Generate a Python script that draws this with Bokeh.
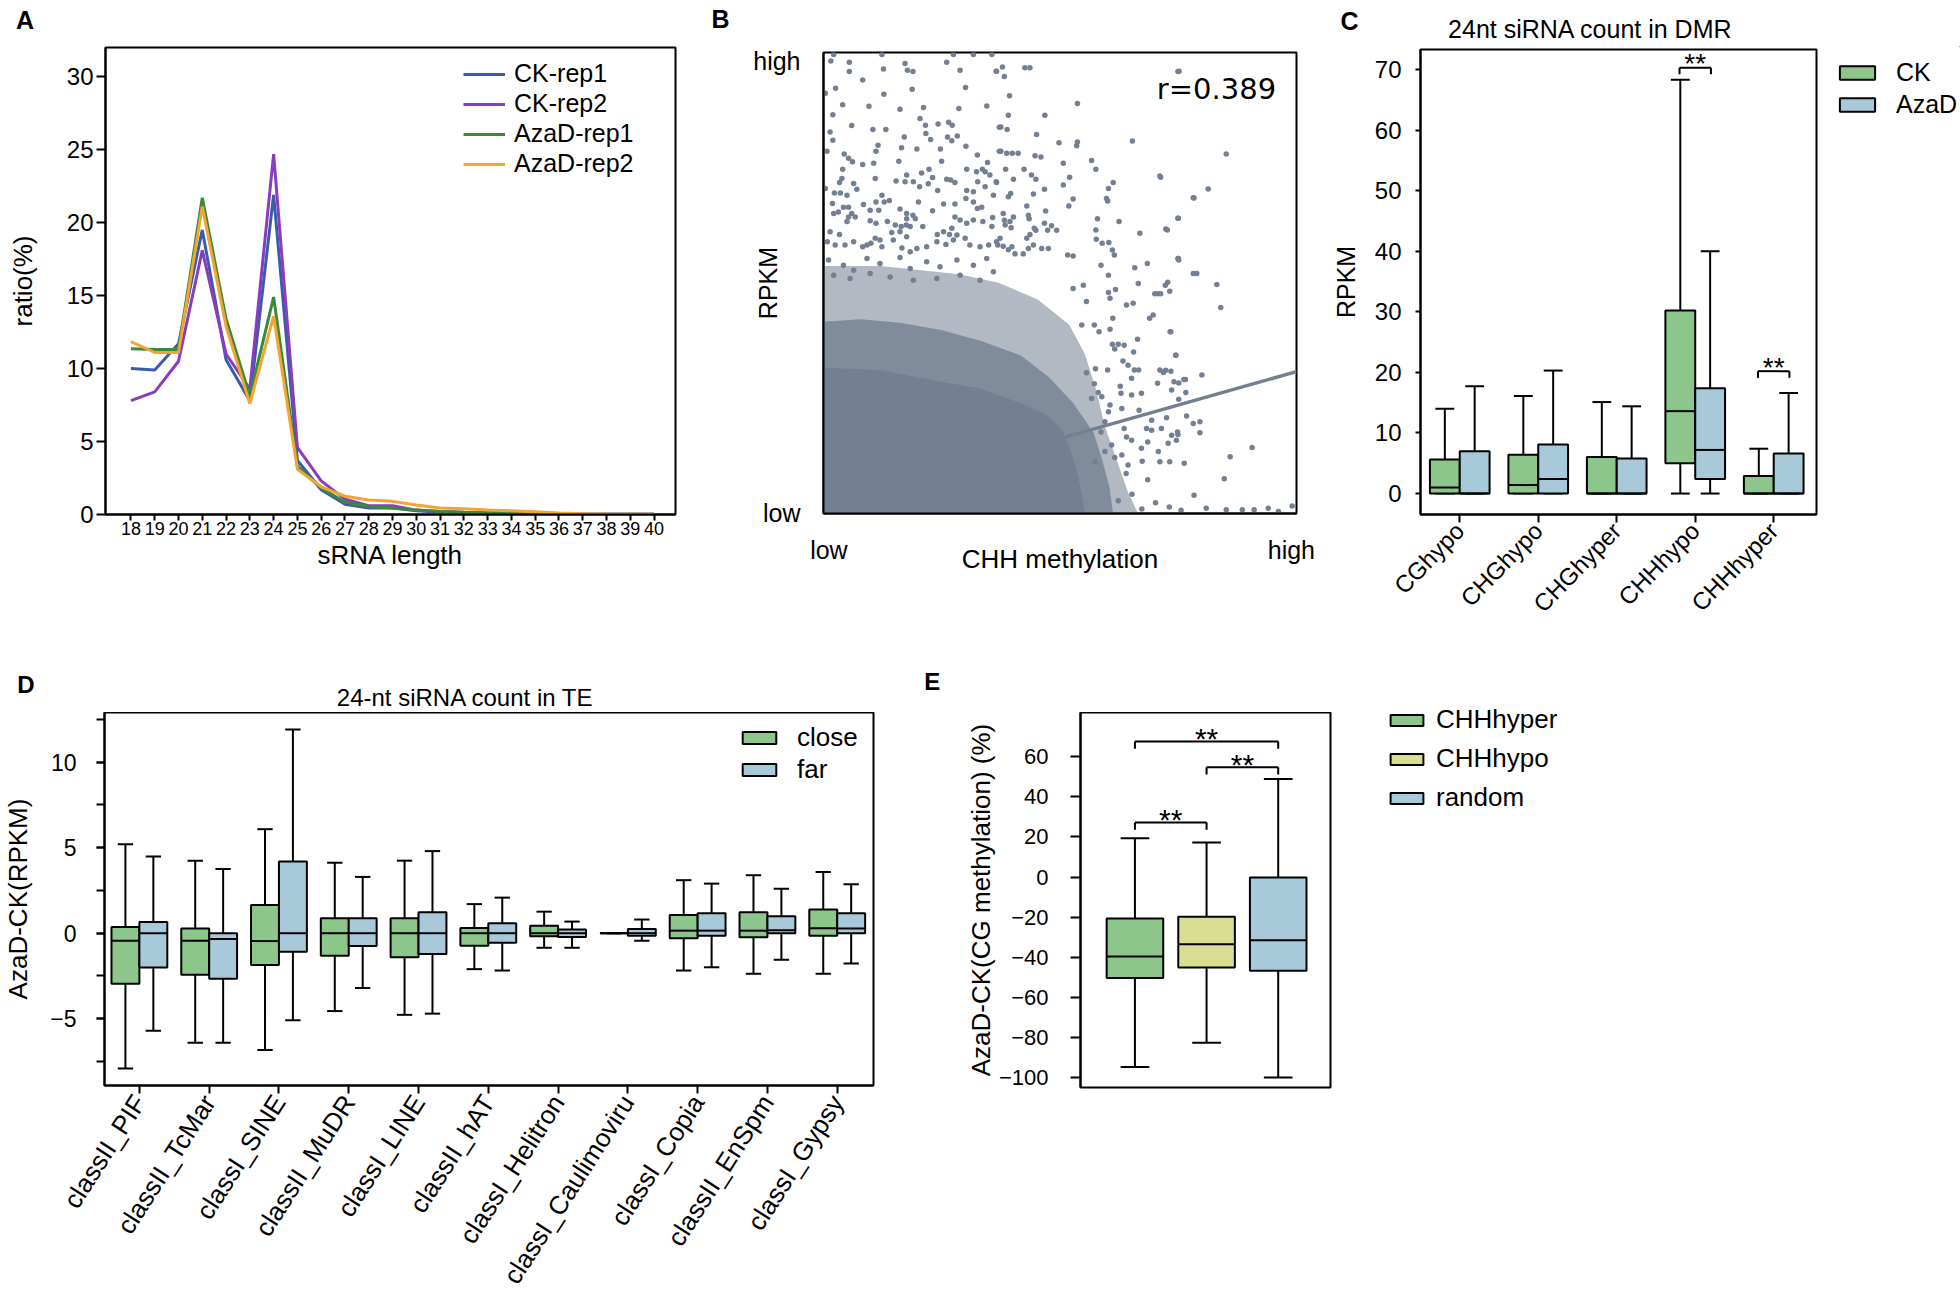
import numpy as np
from bokeh.plotting import figure
from bokeh.models import (ColumnDataSource, Range1d, FixedTicker, SingleIntervalTicker,
                          Legend, LegendItem, Label)
from bokeh.layouts import row, column
from bokeh.embed import file_html
from bokeh.resources import INLINE
from bokeh.core.properties import value

SANS = "Liberation Sans"
DEJAVU = "DejaVu Sans"
GREEN = "#8dc68a"
BLUE = "#a7c9d9"
YELLOW = "#d9de93"
GRAY = "#738092"

# ---------------- Panel A : sRNA length distribution ----------------
srna_len = list(range(18, 41))
ck_rep1 = [10.0, 9.9, 11.7, 19.5, 10.6, 7.8, 21.9, 3.7, 1.7, 0.7, 0.45, 0.45, 0.25, 0.15,
           0.12, 0.1, 0.1, 0.06, 0.03, 0.02, 0.01, 0.01, 0.01]
ck_rep2 = [7.8, 8.4, 10.5, 18.1, 11.0, 8.6, 24.7, 4.6, 2.3, 1.05, 0.6, 0.6, 0.3, 0.2,
           0.15, 0.12, 0.1, 0.08, 0.04, 0.02, 0.02, 0.01, 0.01]
aza_rep1 = [11.35, 11.3, 11.3, 21.7, 13.4, 8.1, 14.9, 3.3, 1.8, 0.85, 0.55, 0.45, 0.3, 0.2,
            0.15, 0.12, 0.1, 0.08, 0.04, 0.02, 0.02, 0.01, 0.01]
aza_rep2 = [11.85, 11.1, 11.1, 21.1, 12.9, 7.6, 13.6, 3.1, 1.9, 1.25, 1.0, 0.9, 0.65, 0.45,
            0.4, 0.3, 0.25, 0.18, 0.1, 0.05, 0.03, 0.02, 0.01]
a_series = ["CK-rep1", "CK-rep2", "AzaD-rep1", "AzaD-rep2"]
a_colors = ["#3b5ca8", "#8a3cc0", "#3a8a3c", "#f2a532"]

# ---------------- Panel B : CHH methylation vs RPKM (relative units) ----------------
b_points = [
    (8.0, 98.5), (20.3, 98.5), (38.5, 98.5), (43.6, 98.5), (48.3, 98.5), (7.3, 96.9), (12.0, 96.6),
    (26.2, 96.3), (36.8, 96.6), (20.7, 95.0), (12.0, 94.4), (26.8, 94.7), (28.2, 94.4), (40.2, 94.7),
    (49.4, 94.5), (15.4, 92.4), (5.9, 89.2), (8.5, 90.4), (28.0, 90.2), (41.6, 90.6), (20.8, 89.0),
    (10.3, 86.5), (17.0, 86.1), (24.9, 85.4), (30.9, 85.8), (39.9, 85.6), (47.0, 86.2), (7.8, 84.1),
    (30.0, 83.2), (12.6, 81.5), (18.0, 80.6), (21.3, 80.6), (31.4, 81.6), (34.6, 81.9), (37.3, 82.3),
    (38.2, 81.6), (7.1, 80.0), (7.8, 78.0), (26.0, 78.8), (31.5, 79.6), (32.7, 78.2), (37.0, 78.8),
    (39.5, 79.0), (38.1, 77.9), (19.3, 76.8), (25.3, 76.2), (29.2, 75.9), (35.2, 75.9), (41.7, 76.6),
    (50.2, 81.1), (6.3, 75.4), (18.8, 75.4), (10.7, 74.7), (11.8, 73.7), (12.8, 72.9), (15.4, 72.2),
    (18.2, 72.5), (24.6, 73.0), (35.5, 73.0), (44.6, 74.5), (47.2, 72.7), (10.3, 71.1), (30.4, 70.2),
    (32.3, 71.1), (41.9, 71.1), (44.4, 70.5), (45.9, 71.1), (46.6, 70.5), (47.8, 69.7), (50.2, 75.4),
    (10.1, 68.9), (9.5, 67.9), (13.1, 67.7), (13.9, 66.3), (18.6, 68.9), (23.9, 68.3), (26.6, 69.7),
    (26.2, 68.1), (28.3, 68.1), (29.9, 66.9), (32.1, 67.6), (33.2, 69.1), (36.8, 68.7), (37.8, 68.5),
    (38.9, 67.9), (41.9, 66.0), (44.7, 68.1), (43.6, 65.7), (46.6, 66.9), (49.4, 68.1), (8.2, 65.4),
    (9.7, 65.4), (11.4, 64.9), (5.9, 66.5), (20.3, 64.9), (22.2, 63.6), (7.7, 62.9), (10.5, 62.0),
    (11.8, 62.0), (15.6, 62.7), (18.8, 63.3), (20.9, 63.3), (17.3, 61.3), (19.5, 61.3), (24.9, 61.6),
    (26.6, 60.5), (29.6, 63.3), (33.2, 61.2), (34.5, 66.0), (36.0, 62.8), (38.9, 62.8), (41.7, 64.1),
    (43.6, 63.3), (44.6, 61.7), (45.7, 62.0), (48.7, 64.9), (8.0, 60.5), (9.2, 60.9), (12.6, 60.5),
    (11.8, 59.7), (13.5, 59.7), (11.4, 58.6), (17.3, 58.8), (18.8, 58.2), (21.7, 58.6), (23.7, 57.8),
    (25.2, 57.4), (26.6, 59.3), (28.2, 60.1), (28.8, 59.3), (26.5, 57.8), (27.5, 57.4), (30.7, 57.4),
    (34.4, 55.5), (36.0, 56.2), (37.5, 55.5), (38.1, 57.0), (38.9, 59.7), (40.2, 59.0), (41.9, 58.2),
    (43.6, 59.0), (46.0, 58.6), (48.5, 59.6), (48.3, 57.4), (7.1, 56.2), (9.5, 55.5), (6.4, 53.8),
    (8.4, 53.0), (10.9, 53.0), (13.1, 53.8), (15.4, 52.6), (16.5, 53.0), (17.5, 53.4), (18.6, 54.6),
    (19.8, 54.2), (20.3, 52.6), (22.8, 56.0), (24.9, 56.2), (26.6, 55.0), (23.2, 54.2), (25.4, 52.3),
    (27.5, 51.4), (29.2, 52.2), (31.7, 52.6), (34.3, 53.8), (36.6, 53.1), (38.5, 54.2), (39.4, 55.4),
    (41.5, 54.6), (42.7, 53.0), (45.3, 52.6), (47.5, 53.0), (49.5, 53.8),
    (6.7, 49.4), (10.5, 48.2), (13.1, 47.0), (16.5, 49.8), (19.8, 48.6), (24.9, 50.0), (27.5, 47.4),
    (31.7, 49.0), (35.1, 47.8), (39.4, 49.4), (43.6, 48.2), (47.0, 49.8), (8.0, 45.8), (12.2, 45.0),
    (17.3, 46.2), (22.4, 45.4), (28.3, 44.6), (34.3, 45.0), (40.2, 45.8), (45.3, 44.6), (48.7, 46.6),
    (49.5, 94.5), (51.0, 95.5), (51.5, 93.2), (56.7, 95.3), (58.0, 95.3), (96.0, 94.5), (52.8, 88.6),
    (70.1, 86.8), (52.5, 84.0), (61.8, 84.0), (50.6, 81.2), (52.2, 80.6), (59.7, 79.4), (65.4, 77.4),
    (70.1, 77.6), (69.9, 76.7), (84.1, 77.8), (50.6, 75.4), (52.1, 74.9), (53.5, 74.9), (55.0, 74.9),
    (59.3, 74.3), (60.8, 74.0), (66.5, 72.5), (73.7, 73.2), (74.8, 71.1), (51.8, 71.1), (56.5, 71.1),
    (58.4, 69.7), (59.5, 68.7), (53.8, 68.7), (49.5, 67.9), (61.7, 66.3), (66.5, 67.3), (68.1, 69.2),
    (91.3, 69.2), (79.2, 67.9), (78.0, 66.5), (53.1, 65.3), (52.5, 64.5), (58.9, 65.2), (77.5, 64.1),
    (77.8, 63.5), (69.0, 64.0), (67.9, 62.3), (99.6, 64.3), (57.2, 62.3), (62.0, 61.1), (51.2, 60.5),
    (53.8, 59.7), (57.6, 60.1), (57.8, 59.3), (51.5, 58.9), (52.9, 58.6), (51.7, 57.8), (53.2, 57.1),
    (59.1, 57.0), (61.7, 58.2), (63.5, 57.6), (64.8, 56.5), (62.5, 56.5), (75.2, 59.3), (80.7, 58.6),
    (95.8, 59.4), (74.8, 56.6), (93.0, 56.6), (86.0, 55.8), (50.4, 54.6), (57.2, 54.6), (58.0, 55.5),
    (59.5, 56.5), (74.9, 54.4), (76.4, 53.4), (78.1, 53.6), (49.8, 53.0), (51.2, 52.7), (53.4, 52.6),
    (52.5, 51.9), (54.2, 50.9), (56.3, 50.9), (57.6, 52.2), (58.9, 53.0), (61.0, 52.2), (62.7, 52.2),
    (67.6, 50.6), (69.0, 50.4), (79.0, 51.8), (79.5, 50.6), (95.8, 49.8),
    (76.1, 48.2), (78.0, 45.8), (84.7, 47.6), (87.9, 48.6), (95.9, 49.4), (99.6, 46.2), (85.6, 43.8),
    (89.8, 41.4), (91.3, 41.4), (92.5, 43.4), (93.6, 42.0), (79.8, 42.4), (78.0, 41.7), (78.4, 40.3),
    (82.6, 38.7), (84.3, 39.1), (72.4, 39.5), (71.6, 43.4), (69.0, 42.6), (88.5, 35.5), (89.4, 36.3),
    (79.1, 35.5), (78.4, 32.9), (74.4, 33.9), (75.6, 32.3), (71.2, 33.9), (93.9, 32.3), (85.4, 30.5),
    (79.0, 29.3), (80.5, 29.3), (82.0, 29.1), (84.4, 27.5), (95.1, 26.7), (79.6, 28.2), (81.7, 25.3),
    (83.0, 24.3), (84.6, 23.2), (85.7, 23.2), (83.9, 21.2), (91.1, 23.2), (92.0, 22.6), (93.9, 22.9),
    (77.8, 23.2), (74.7, 23.5), (72.4, 22.5), (90.5, 20.0), (95.9, 20.1), (97.6, 20.9), (81.0, 19.3),
    (81.2, 17.6), (83.9, 17.2), (86.4, 17.6), (94.1, 18.4), (95.9, 16.2), (85.8, 13.6), (81.4, 14.0),
    (78.4, 14.8), (97.9, 12.2), (99.6, 10.4), (92.8, 11.8), (89.0, 11.2), (87.7, 9.2), (89.0, 8.8),
    (91.5, 9.2), (94.1, 7.6), (95.6, 8.4), (82.0, 9.2), (82.6, 7.2), (83.9, 6.4), (86.4, 4.5),
    (88.0, 6.0), (90.7, 3.7), (93.2, 5.7), (95.3, 6.4), (97.3, 0.9), (93.6, 1.3), (91.1, 1.3),
    (86.6, 1.4), (83.0, 0.5), (79.6, 2.3), (81.4, 2.9), (74.4, 19.9), (75.4, 17.8), (73.7, 16.4),
    (76.3, 16.8), (78.0, 13.2), (77.1, 10.8), (76.1, 8.4), (78.8, 5.3), (77.1, 3.7), (74.6, 1.3),
    (95.7, 94.4), (108.0, 74.7), (103.4, 66.4), (99.8, 64.2), (95.7, 59.4), (92.6, 56.8),
    (95.7, 49.8), (100.5, 46.2), (105.6, 43.6), (106.6, 38.1), (93.7, 32.3), (95.2, 26.7),
    (101.8, 22.0), (97.2, 20.9), (94.7, 20.4), (101.3, 10.8), (101.3, 8.2), (95.7, 7.8),
    (109.0, 2.5), (114.6, 4.7), (107.5, -2.8), (99.8, -6.7), (102.9, -9.8), (108.0, -10.2),
    (112.1, -10.2), (115.1, -10.2), (118.7, -9.8), (121.3, -10.6), (124.8, -9.3), (91.1, 69.5),
    (93.1, 44.1), (90.6, 41.4), (92.6, 23.1), (97.7, 17.8), (88.0, -3.0), (84.0, -6.5),
    (90.0, -8.5), (86.5, -10.0), (93.5, -9.5), (96.5, -10.3), (82.5, -1.5), (80.5, -8.0),
]
b_meth = [p[0] for p in b_points]
b_rpkm = [p[1] for p in b_points]
# outlines of the regions where the points overlap (sparse, dense, saturated)
b_sparse_x = [0, 0, 20, 40, 50, 60, 68, 72, 75, 77, 80, 83, 86]
b_sparse_y = [-12, 48, 48, 46, 44, 40, 34, 27, 18, 10, 2, -6, -12]
b_dense_x = [0, 0, 14.9, 25.2, 35.4, 45.6, 55.8, 63.0, 69.1, 74.2, 76.3, 78.3, 79.3]
b_dense_y = [-12, 34.4, 35.3, 34.4, 32.7, 30.1, 26.6, 21.3, 15.2, 8.2, 2.1, -4.9, -12]
b_solid_x = [0, 0, 20, 35.4, 45.6, 55.8, 62.0, 66.0, 68.1, 70.1, 71.2, 72.2]
b_solid_y = [-12, 24, 23.1, 20.4, 18.7, 15.2, 12.6, 9.1, 4.7, -1.4, -6.7, -12]
b_fit_x = [0, 125.9]
b_fit_y = [-10.6, 22.8]
b_r = "r=0.389"

# ---------------- Panel C : 24nt siRNA in DMR ----------------
c_title = "24nt siRNA count in DMR"
dmr_types = ["CGhypo", "CHGhypo", "CHGhyper", "CHHhypo", "CHHhyper"]
c_ck_low = [0, 0, 0, 0, 0]
c_ck_q1 = [0, 0, 0, 5.0, 0]
c_ck_med = [1.0, 1.4, 0, 13.6, 0]
c_ck_q3 = [5.6, 6.4, 6.05, 30.2, 2.9]
c_ck_high = [14.0, 16.1, 15.1, 68.3, 7.4]
c_aza_low = [0, 0, 0, 0, 0]
c_aza_q1 = [0, 0, 0, 2.4, 0]
c_aza_med = [0, 2.4, 0, 7.2, 0]
c_aza_q3 = [7.0, 8.1, 5.8, 17.4, 6.6]
c_aza_high = [17.7, 20.3, 14.4, 40.0, 16.6]
c_sig_groups = ["CHHhypo", "CHHhyper"]
c_sig_y = [70.3, 20.2]

# ---------------- Panel D : 24-nt siRNA in TE ----------------
d_title = "24-nt siRNA count in TE"
te_classes = ["classII_PIF", "classII_TcMar", "classI_SINE", "classII_MuDR", "classI_LINE",
              "classII_hAT", "classI_Helitron", "classI_Caulimoviru", "classI_Copia",
              "classII_EnSpm", "classI_Gypsy"]
d_close_low = [-7.9, -6.4, -6.83, -4.55, -4.77, -2.1, -0.85, 0, -2.18, -2.37, -2.37]
d_close_q1 = [-2.95, -2.42, -1.86, -1.31, -1.4, -0.73, -0.17, 0, -0.29, -0.24, -0.15]
d_close_med = [-0.44, -0.44, -0.46, 0, 0, 0, 0, 0, 0.15, 0.15, 0.29]
d_close_q3 = [0.36, 0.27, 1.65, 0.87, 0.87, 0.31, 0.44, 0, 1.07, 1.23, 1.38]
d_close_high = [5.2, 4.24, 6.08, 4.12, 4.24, 1.7, 1.26, 0, 3.1, 3.39, 3.58]
d_far_low = [-5.7, -6.4, -5.08, -3.2, -4.7, -2.18, -0.85, -0.44, -1.99, -1.55, -1.77]
d_far_q1 = [-2.0, -2.66, -1.09, -0.75, -1.21, -0.56, -0.22, -0.15, -0.15, 0, 0]
d_far_med = [0, -0.34, 0, 0, 0, 0, 0, 0, 0.15, 0.17, 0.27]
d_far_q3 = [0.65, 0, 4.19, 0.87, 1.23, 0.58, 0.22, 0.24, 1.16, 0.99, 1.16]
d_far_high = [4.48, 3.75, 11.9, 3.29, 4.8, 2.08, 0.68, 0.8, 2.9, 2.6, 2.86]

# ---------------- Panel E : CG methylation change ----------------
e_groups = ["CHHhyper", "CHHhypo", "random"]
e_colors = [GREEN, YELLOW, BLUE]
e_low = [-94.8, -82.7, -100.0]
e_q1 = [-50.4, -45.1, -46.8]
e_med = [-39.6, -33.5, -31.5]
e_q3 = [-20.7, -19.8, -0.2]
e_high = [19.4, 17.3, 48.9]
e_sig_pairs = [("CHHhyper", "random"), ("CHHhypo", "random"), ("CHHhyper", "CHHhypo")]
e_sig_y = [67.65, 54.8, 27.2]
e_ticks = [-100, -80, -60, -40, -20, 0, 20, 40, 60]

panel_letters = ["A", "B", "C", "D", "E"]


def base_fig(width, height, x_range, y_range, left, right, top, bottom):
    p = figure(width=width, height=height, x_range=x_range, y_range=y_range,
               output_backend="svg", toolbar_location=None, title=None)
    p.frame_align = False
    p.min_border_left = left
    p.min_border_right = right
    p.min_border_top = top
    p.min_border_bottom = bottom
    p.grid.visible = False
    p.outline_line_color = "black"
    p.outline_line_width = 2
    p.outline_line_alpha = 1
    p.background_fill_color = "white"
    p.border_fill_color = "white"
    for ax in p.axis:
        ax.axis_line_color = "black"
        ax.axis_line_width = 2
        ax.major_tick_line_color = "black"
        ax.major_tick_line_width = 2
        ax.major_tick_in = 0
        ax.minor_tick_line_color = None
        ax.major_label_text_color = "black"
        ax.axis_label_text_font_style = "normal"
        ax.axis_label_text_color = "black"
        ax.axis_label_text_font = SANS
        ax.major_label_text_font = SANS
    return p


def blank_fig(width, height, x_range, y_range):
    p = figure(width=width, height=height, x_range=x_range, y_range=y_range,
               x_axis_type=None, y_axis_type=None, output_backend="svg",
               toolbar_location=None, title=None)
    p.frame_align = False
    p.min_border = 0
    p.min_border_left = 0
    p.min_border_right = 0
    p.min_border_top = 0
    p.min_border_bottom = 0
    p.outline_line_color = None
    p.grid.visible = False
    p.background_fill_color = "white"
    p.border_fill_color = "white"
    return p


def draw_boxes(p, xs, low, q1, med, q3, high, color, width, cap):
    src = ColumnDataSource(dict(
        x=xs, low=low, q1=q1, med=med, q3=q3, high=high,
        bl=[x - width / 2 for x in xs], br=[x + width / 2 for x in xs],
        cl=[x - cap / 2 for x in xs], cr=[x + cap / 2 for x in xs]))
    p.segment(x0="x", y0="q3", x1="x", y1="high", source=src, line_color="black", line_width=2)
    p.segment(x0="x", y0="low", x1="x", y1="q1", source=src, line_color="black", line_width=2)
    p.segment(x0="cl", y0="high", x1="cr", y1="high", source=src, line_color="black", line_width=2)
    p.segment(x0="cl", y0="low", x1="cr", y1="low", source=src, line_color="black", line_width=2)
    r = p.vbar(x="x", width=width, bottom="q1", top="q3", source=src, fill_color=color,
               line_color="black", line_width=2)
    p.segment(x0="bl", y0="med", x1="br", y1="med", source=src, line_color="black", line_width=2)
    return r


def box_legend(p, items, loc, size, gw, gh, spacing, standoff, place="center"):
    lg = Legend(items=items, location=loc, orientation="vertical")
    lg.label_text_font = SANS
    lg.label_text_font_size = size
    lg.label_text_color = "black"
    lg.glyph_width = gw
    lg.glyph_height = gh
    lg.label_height = gh
    lg.label_standoff = standoff
    lg.spacing = spacing
    lg.padding = 0
    lg.margin = 0
    lg.border_line_color = None
    lg.background_fill_alpha = 0
    p.add_layout(lg, place)
    return lg


# ================= header strips (panel letters and titles) =================
top_strip = blank_fig(1960, 46, Range1d(0, 1960), Range1d(46, 0))
top_strip.text(x=[15.4, 711, 1340], y=[19.5, 18.4, 20], text=panel_letters[:3],
               text_font=value(SANS), text_font_style="bold", text_font_size="25px",
               text_baseline="alphabetic", text_align="left", text_color="black")
top_strip.text(x=[1590], y=[28.7], text=[c_title], text_font=value(SANS),
               text_font_size="25px", text_baseline="alphabetic", text_align="center",
               text_color="black")

mid_strip = blank_fig(1960, 52, Range1d(0, 1960), Range1d(712, 660))
mid_strip.text(x=[16.7, 923.7], y=[683.7, 681.3], text=panel_letters[3:], text_font=value(SANS),
               text_font_style="bold", text_font_size="24px", text_baseline="alphabetic",
               text_align="left", text_color="black")
mid_strip.text(x=[465], y=[696.5], text=[d_title], text_font=value(SANS),
               text_font_size="24px", text_baseline="alphabetic", text_align="center",
               text_color="black")

# ================= Panel A =================
pA = base_fig(740, 614, Range1d(16.93, 40.9), Range1d(0, 32), 105, 65, 1, 146)
a_vals = [ck_rep1, ck_rep2, aza_rep1, aza_rep2]
a_items = []
for name, vals, col in zip(a_series, a_vals, a_colors):
    r = pA.line(srna_len, vals, line_color=col, line_width=3)
    a_items.append(LegendItem(label=name, renderers=[r]))
pA.xaxis.ticker = FixedTicker(ticks=srna_len)
pA.yaxis.ticker = SingleIntervalTicker(interval=5, num_minor_ticks=0)
pA.xaxis.major_label_text_font_size = "18px"
pA.yaxis.major_label_text_font_size = "24px"
pA.xaxis.major_tick_out = 6
pA.yaxis.major_tick_out = 9
pA.xaxis.major_label_standoff = 1
pA.yaxis.major_label_standoff = 3
pA.xaxis.axis_label = "sRNA length"
pA.yaxis.axis_label = "ratio(%)"
pA.xaxis.axis_label_text_font_size = "26px"
pA.yaxis.axis_label_text_font_size = "26px"
pA.xaxis.axis_label_standoff = 2
pA.yaxis.axis_label_standoff = 26
box_legend(pA, a_items, (358, 336), "25px", 42, 20, 1, 9)

# ================= Panel B =================
pB = base_fig(585, 614, Range1d(5.42, 125.9), Range1d(-11.07, 98.95), 83, 29, 6, 147)
pB.patch(b_sparse_x, b_sparse_y, fill_color=GRAY, fill_alpha=0.55, line_color=None)
pB.patch(b_dense_x, b_dense_y, fill_color=GRAY, fill_alpha=0.8, line_color=None)
pB.patch(b_solid_x, b_solid_y, fill_color=GRAY, fill_alpha=1.0, line_color=None)
pB.scatter(b_meth, b_rpkm, size=5.5, fill_color=GRAY, line_color=None)
pB.line(b_fit_x, b_fit_y, line_color=GRAY, line_width=3.5)
pB.xaxis.ticker = FixedTicker(ticks=[6.8, 124.6])
pB.xaxis.major_label_overrides = {6.8: "low", 124.6: "high"}
pB.yaxis.ticker = FixedTicker(ticks=[-11.0, 98.3])
pB.yaxis.major_label_overrides = {-11.0: "low", 98.3: "high"}
for ax in pB.axis:
    ax.major_tick_out = 0
    ax.major_tick_line_color = None
    ax.major_label_text_font_size = "25px"
    ax.axis_label_text_font_size = "26px"
pB.xaxis.major_label_standoff = 22
pB.yaxis.major_label_standoff = 23
pB.xaxis.axis_label = "CHH methylation"
pB.yaxis.axis_label = "RPKM"
pB.yaxis.axis_label_text_font_size = "25px"
pB.xaxis.axis_label_standoff = -23
pB.yaxis.axis_label_standoff = -32
pB.add_layout(Label(x=120.7, y=90.2, text=b_r, text_align="right", text_baseline="middle",
                    text_font=DEJAVU, text_font_size="29px", text_color="black"))

# ================= Panel C =================
pC = base_fig(501, 614, Range1d(-0.5, 4.545), Range1d(-3.46, 73.3), 95, 10, 3, 146)
c_x = list(range(len(dmr_types)))
rc1 = draw_boxes(pC, [x - 0.19 for x in c_x], c_ck_low, c_ck_q1, c_ck_med, c_ck_q3, c_ck_high,
                 GREEN, 0.38, 0.24)
rc2 = draw_boxes(pC, [x + 0.19 for x in c_x], c_aza_low, c_aza_q1, c_aza_med, c_aza_q3, c_aza_high,
                 BLUE, 0.38, 0.24)
c_sx = [dmr_types.index(g) for g in c_sig_groups]
pC.segment(x0=[x - 0.2 for x in c_sx], y0=c_sig_y, x1=[x + 0.2 for x in c_sx], y1=c_sig_y,
           line_color="black", line_width=2)
pC.segment(x0=[x - 0.2 for x in c_sx], y0=c_sig_y, x1=[x - 0.2 for x in c_sx],
           y1=[y - 1.1 for y in c_sig_y], line_color="black", line_width=2)
pC.segment(x0=[x + 0.2 for x in c_sx], y0=c_sig_y, x1=[x + 0.2 for x in c_sx],
           y1=[y - 1.1 for y in c_sig_y], line_color="black", line_width=2)
pC.text(x=c_sx, y=c_sig_y, text=["**"] * len(c_sx), text_align="center",
        text_baseline="alphabetic", y_offset=-4, text_font=value(SANS), text_font_size="28px",
        text_color="black")
pC.xaxis.ticker = FixedTicker(ticks=c_x)
pC.xaxis.major_label_overrides = {i: n for i, n in enumerate(dmr_types)}
pC.xaxis.major_label_orientation = 0.8
pC.xaxis.major_label_text_font_size = "24px"
pC.xaxis.major_tick_out = 8
pC.xaxis.major_label_standoff = 4
pC.yaxis.ticker = SingleIntervalTicker(interval=10, num_minor_ticks=0)
pC.yaxis.major_label_text_font_size = "24px"
pC.yaxis.major_tick_out = 5
pC.yaxis.major_label_standoff = 14
pC.yaxis.axis_label = "RPKM"
pC.yaxis.axis_label_text_font_size = "25px"
pC.yaxis.axis_label_standoff = 12

# legend of panel C, drawn beside it (bars lie outside the visible range)
pCleg = blank_fig(134, 614, Range1d(0, 1), Range1d(0, 1))
lc1 = pCleg.vbar(x=[5], top=[5], bottom=[4], width=0.1, fill_color=GREEN, line_color="black",
                 line_width=2)
lc2 = pCleg.vbar(x=[5], top=[5], bottom=[4], width=0.1, fill_color=BLUE, line_color="black",
                 line_width=2)
box_legend(pCleg, [LegendItem(label="CK", renderers=[lc1]), LegendItem(label="AzaD", renderers=[lc2])],
           (9, 541), "25px", 44, 17, 3, 17)

# ================= Panel D =================
pD = base_fig(930, 598, Range1d(-0.5, 10.52), Range1d(-8.9, 12.9), 103, 57, 0, 225)
d_x = list(range(len(te_classes)))
rd1 = draw_boxes(pD, [x - 0.2 for x in d_x], d_close_low, d_close_q1, d_close_med, d_close_q3,
                 d_close_high, GREEN, 0.4, 0.22)
rd2 = draw_boxes(pD, [x + 0.2 for x in d_x], d_far_low, d_far_q1, d_far_med, d_far_q3,
                 d_far_high, BLUE, 0.4, 0.22)
pD.xaxis.ticker = FixedTicker(ticks=d_x)
pD.xaxis.major_label_overrides = {i: n for i, n in enumerate(te_classes)}
pD.xaxis.major_label_orientation = 1.0
pD.xaxis.major_label_text_font_size = "26px"
pD.xaxis.major_tick_out = 8
pD.xaxis.major_label_standoff = 4
pD.yaxis.ticker = SingleIntervalTicker(interval=5, num_minor_ticks=2)
pD.yaxis.minor_tick_line_color = "black"
pD.yaxis.minor_tick_line_width = 2
pD.yaxis.minor_tick_out = 8
pD.yaxis.minor_tick_in = 0
pD.yaxis.major_tick_out = 8
pD.yaxis.major_label_standoff = 20
pD.yaxis.major_label_text_font_size = "23px"
pD.yaxis.axis_label = "AzaD-CK(RPKM)"
pD.yaxis.axis_label_text_font_size = "26px"
pD.yaxis.axis_label_standoff = 14
box_legend(pD, [LegendItem(label="close", renderers=[rd1]), LegendItem(label="far", renderers=[rd2])],
           (634, 300), "26px", 42, 15, 1, 17)

# ================= Panel E =================
pE = base_fig(1030, 598, Range1d(-0.76, 2.73), Range1d(-105, 82.1), 150, 597, 0, 223)
e_x = list(range(len(e_groups)))
e_items = []
for i, g in enumerate(e_groups):
    r = draw_boxes(pE, [e_x[i]], [e_low[i]], [e_q1[i]], [e_med[i]], [e_q3[i]], [e_high[i]],
                   e_colors[i], 0.79, 0.4)
    e_items.append(LegendItem(label=g, renderers=[r]))
e_x0 = [e_groups.index(a) for a, b in e_sig_pairs]
e_x1 = [e_groups.index(b) for a, b in e_sig_pairs]
pE.segment(x0=e_x0, y0=e_sig_y, x1=e_x1, y1=e_sig_y, line_color="black", line_width=2)
pE.segment(x0=e_x0, y0=e_sig_y, x1=e_x0, y1=[y - 3.6 for y in e_sig_y], line_color="black", line_width=2)
pE.segment(x0=e_x1, y0=e_sig_y, x1=e_x1, y1=[y - 3.6 for y in e_sig_y], line_color="black", line_width=2)
pE.text(x=[(a + b) / 2 for a, b in zip(e_x0, e_x1)], y=e_sig_y, text=["**"] * len(e_sig_y),
        text_align="center", text_baseline="alphabetic", y_offset=-3, text_font=value(SANS),
        text_font_size="30px", text_color="black")
pE.xaxis.visible = False
pE.yaxis.ticker = FixedTicker(ticks=e_ticks)
pE.yaxis.major_tick_out = 10
pE.yaxis.major_label_standoff = 22
pE.yaxis.major_label_text_font_size = "22px"
pE.yaxis.axis_label = "AzaD-CK(CG methylation) (%)"
pE.yaxis.axis_label_text_font_size = "26px"
pE.yaxis.axis_label_standoff = 0
box_legend(pE, e_items, (56, 274), "26px", 41, 14, 8, 9, place="right")

layout = column(top_strip, row(pA, pB, pC, pCleg), mid_strip, row(pD, pE))
open("out.html", "w").write(file_html(layout, INLINE))
